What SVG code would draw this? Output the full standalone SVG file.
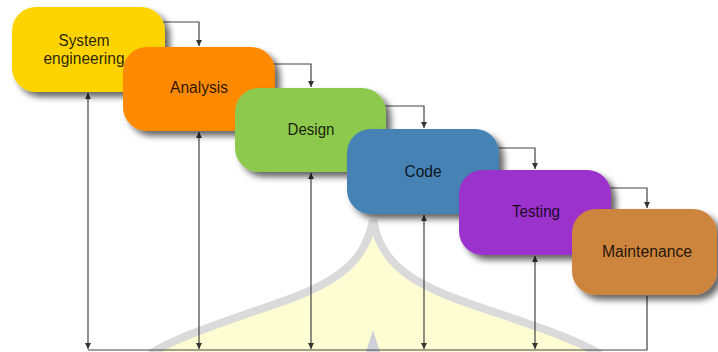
<svg xmlns="http://www.w3.org/2000/svg" width="718" height="352" viewBox="0 0 718 352">
<style>
.box{filter:url(#sh)}
.lbl{font-family:"Liberation Sans",Arial,sans-serif;font-size:16px;fill:#000;fill-opacity:0.85;text-anchor:middle}
.ln{fill:none;stroke:#444;stroke-width:1.2}
</style>
<defs>
<filter id="sh" x="-20%" y="-20%" width="150%" height="150%">
<feDropShadow dx="5" dy="5" stdDeviation="3" flood-color="#000" flood-opacity="0.6"/>
</filter>
<marker id="ah" viewBox="0 0 10 10" refX="10" refY="5" markerWidth="6" markerHeight="6" markerUnits="userSpaceOnUse" orient="auto-start-reverse">
<path d="M0,0 L10,5 L0,10 z" fill="#333"/>
</marker>
</defs>
<rect width="718" height="352" fill="#fff"/>
<g id="watermark">
<path d="M373,220 C364,270 326,288 252,312 C206,328 172,340 150,354 L600,354 C576,340 542,328 494,312 C420,288 382,270 373,220 Z" fill="#fdfcd2"/>
<path d="M373,220 C364,270 326,288 252,312 C206,328 172,340 150,354" fill="none" stroke="#dadada" stroke-width="8"/>
<path d="M373,220 C382,270 420,288 494,312 C542,328 576,340 600,354" fill="none" stroke="#dadada" stroke-width="8"/>
<path d="M366,352 L373,330 L380,352 Z" fill="#d0d0d8"/>
</g>
<g id="connectors">
<path class="ln" d="M160,22 H199 V46" marker-end="url(#ah)"/>
<path class="ln" d="M270,64 H311 V87" marker-end="url(#ah)"/>
<path class="ln" d="M381,106 H424 V128" marker-end="url(#ah)"/>
<path class="ln" d="M494,148 H535 V169" marker-end="url(#ah)"/>
<path class="ln" d="M606,188 H647 V208" marker-end="url(#ah)"/>
<path class="ln" d="M88,93 V349" marker-start="url(#ah)" marker-end="url(#ah)"/>
<path class="ln" d="M199,132 V349" marker-start="url(#ah)" marker-end="url(#ah)"/>
<path class="ln" d="M311,173 V349" marker-start="url(#ah)" marker-end="url(#ah)"/>
<path class="ln" d="M424,215 V349" marker-start="url(#ah)" marker-end="url(#ah)"/>
<path class="ln" d="M535,256 V349" marker-start="url(#ah)" marker-end="url(#ah)"/>
<path class="ln" d="M647,296 V350 H88"/>
</g>
<g id="system-engineering">
<rect class="box" x="12" y="7" width="153" height="85" rx="24" fill="#fdd400"/>
<text class="lbl" x="84" y="46" textLength="51" lengthAdjust="spacingAndGlyphs">System</text>
<text class="lbl" x="84" y="64" textLength="81" lengthAdjust="spacingAndGlyphs">engineering</text>
</g>
<g id="analysis">
<rect class="box" x="123" y="47" width="152" height="84" rx="24" fill="#ff8a00"/>
<text class="lbl" x="199" y="93" textLength="58" lengthAdjust="spacingAndGlyphs">Analysis</text>
</g>
<g id="design">
<rect class="box" x="235" y="88" width="151" height="84" rx="24" fill="#8dc94e"/>
<text class="lbl" x="311" y="135" textLength="47" lengthAdjust="spacingAndGlyphs">Design</text>
</g>
<g id="code">
<rect class="box" x="347" y="129" width="152" height="85" rx="24" fill="#4682b4"/>
<text class="lbl" x="423" y="177" textLength="37" lengthAdjust="spacingAndGlyphs">Code</text>
</g>
<g id="testing">
<rect class="box" x="459" y="170" width="152" height="85" rx="24" fill="#9b30cc"/>
<text class="lbl" x="536" y="217" textLength="48" lengthAdjust="spacingAndGlyphs">Testing</text>
</g>
<g id="maintenance">
<rect class="box" x="572" y="209" width="145" height="86" rx="24" fill="#cd843e"/>
<text class="lbl" x="647" y="257" textLength="90" lengthAdjust="spacingAndGlyphs">Maintenance</text>
</g>
</svg>
